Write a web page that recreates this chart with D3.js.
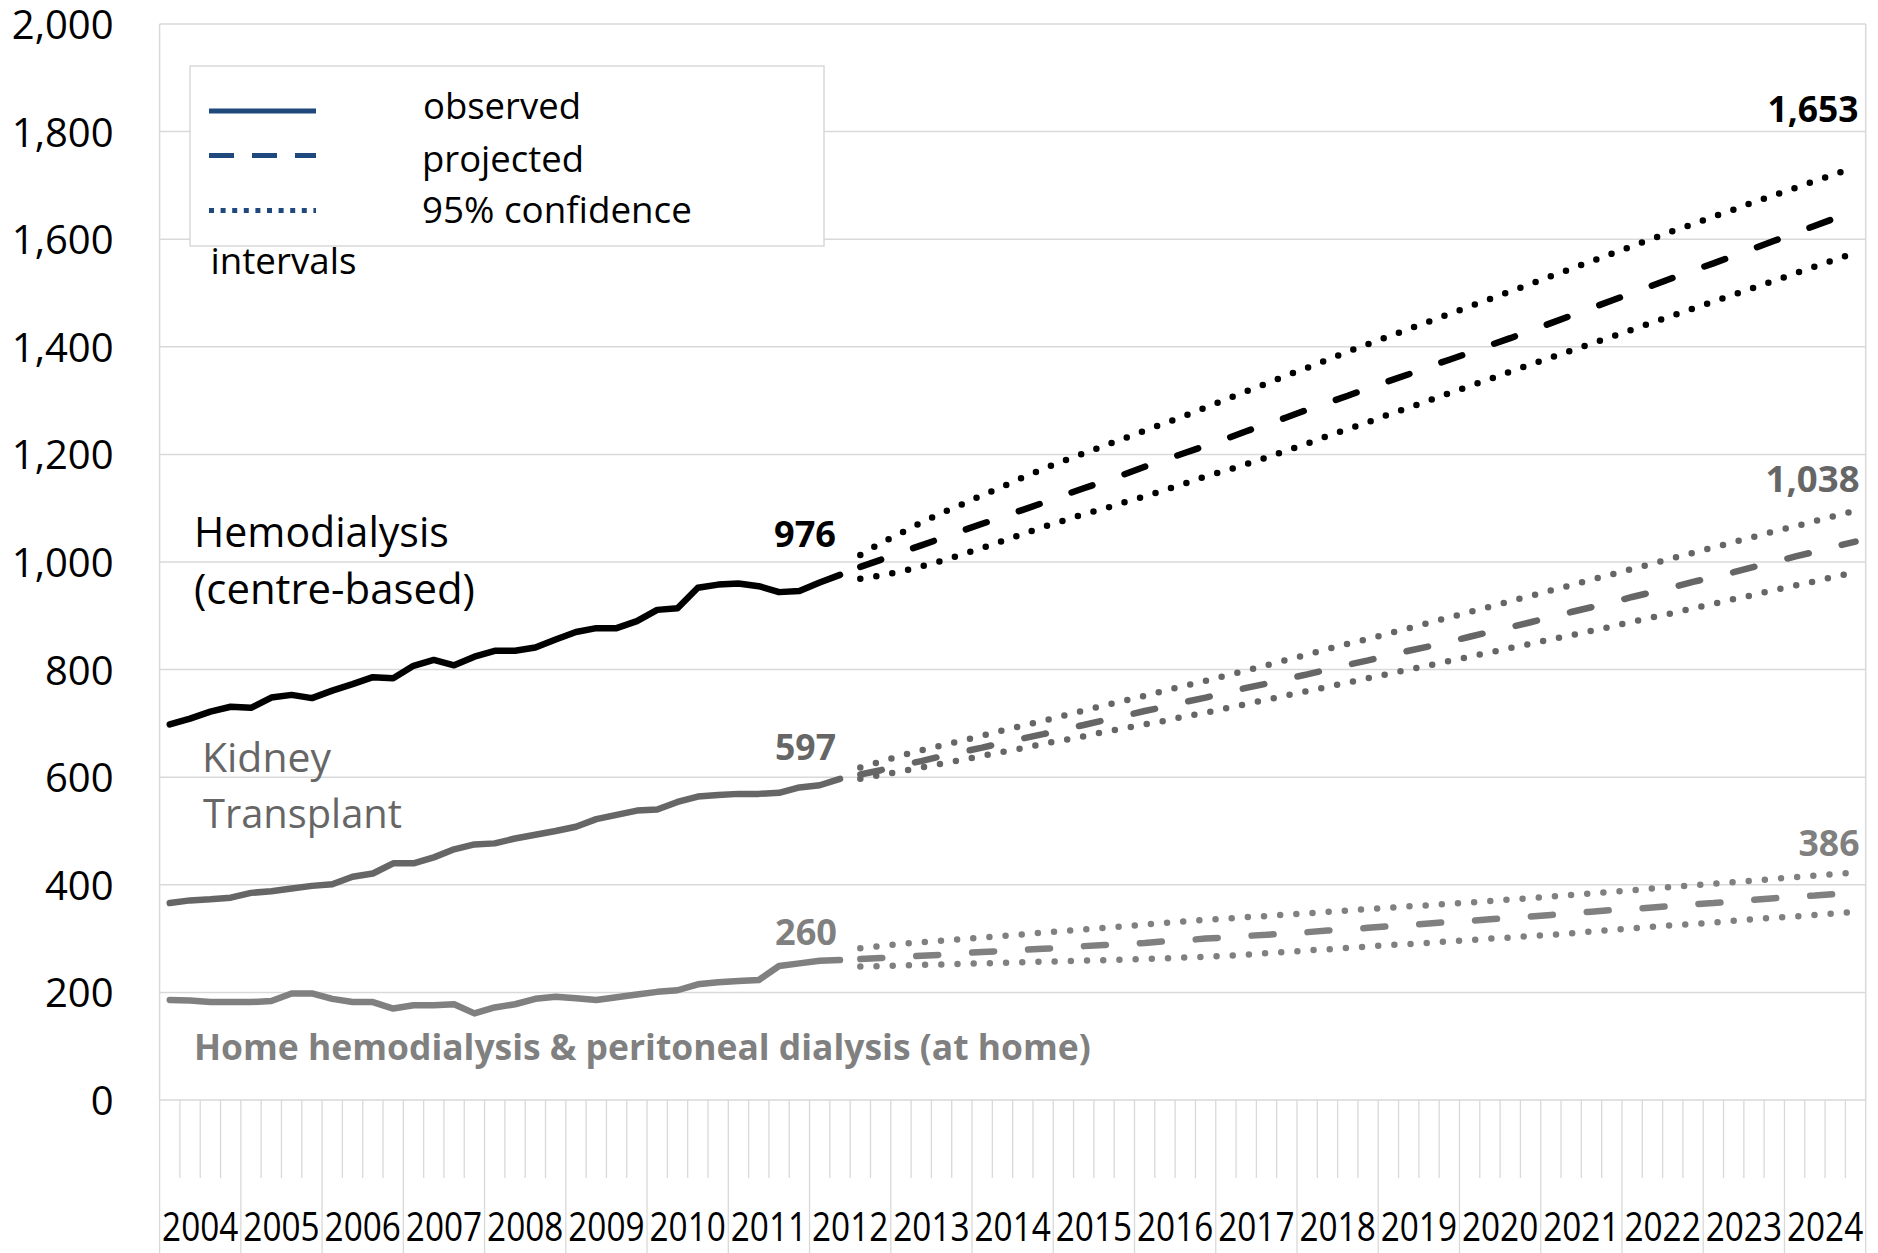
<!DOCTYPE html>
<html>
<head>
<meta charset="utf-8">
<script src="https://cdn.jsdelivr.net/npm/d3@7"></script>
<style>
  html, body { margin: 0; padding: 0; background: #fff; }
  svg { display: block; font-family: "Open Sans", "Noto Sans", sans-serif; }
</style>
</head>
<body>
<svg id="chart" width="1878" height="1253"></svg>
<script>
// Category axis: years split into quarters
const years = ["2004","2005","2006","2007","2008","2009","2010","2011","2012","2013","2014",
  "2015","2016","2017","2018","2019","2020","2021","2022","2023","2024"];
const quarters = ["Q1","Q2","Q3","Q4"];
const yTicks = [0, 200, 400, 600, 800, 1000, 1200, 1400, 1600, 1800, 2000];

// Observed quarterly counts, 2004 Q1 – 2012 Q2
const hemoObserved = [698,709,722,731,729,748,753,747,761,773,786,784,807,818,808,824,835,835,
  841,856,870,877,877,890,911,914,952,958,960,955,944,946,962,976];
const kidneyObserved = [366,371,373,376,385,388,393,398,401,415,421,440,440,451,466,475,477,486,
  493,500,508,522,530,538,540,554,564,567,569,569,571,581,585,597];
const homeObserved = [186,185,182,182,182,184,198,198,188,182,182,170,176,176,178,161,172,178,
  188,192,189,186,191,196,201,204,215,219,221,223,249,254,259,260];

// Projections with 95% confidence limits, 2012 Q3 – 2024 Q4
const hemoProjected = [991,1004,1018,1031,1044,1058,1071,1084,1097,1110,1124,1137,1150,1163,1177,
  1190,1203,1216,1229,1243,1256,1269,1283,1296,1309,1323,1336,1349,1363,1376,1389,1403,1416,1430,
  1444,1458,1472,1486,1500,1514,1528,1542,1555,1569,1583,1597,1611,1625,1639,1653];
const hemoUpper = [1013,1035,1054,1073,1091,1107,1124,1140,1157,1173,1188,1202,1216,1230,1244,1258,
  1272,1287,1302,1317,1332,1347,1361,1376,1391,1405,1419,1433,1447,1461,1475,1489,1503,1517,1531,
  1545,1559,1573,1587,1601,1615,1628,1642,1655,1669,1682,1695,1708,1721,1734];
const hemoLower = [969,975,982,992,1002,1014,1026,1039,1052,1065,1077,1089,1099,1111,1122,1134,1146,
  1159,1170,1182,1194,1207,1220,1234,1247,1260,1274,1287,1300,1314,1327,1340,1354,1367,1380,1393,
  1406,1419,1432,1445,1458,1471,1484,1497,1510,1523,1536,1549,1562,1575];

const kidneyProjected = [605,613,622,630,639,647,655,664,672,680,689,697,706,714,723,731,740,748,757,
  766,774,783,791,800,809,817,826,835,843,852,861,870,879,888,898,907,916,925,935,944,953,963,972,
  981,991,1000,1010,1019,1029,1038];
const kidneyUpper = [618,629,640,650,659,668,677,687,696,705,714,724,733,742,751,761,770,779,789,798,
  808,818,828,838,848,857,867,877,887,897,907,917,927,937,947,957,967,977,987,997,1007,1017,1027,
  1037,1047,1057,1066,1076,1086,1095];
const kidneyLower = [597,604,611,618,625,632,640,647,654,662,669,676,684,691,698,705,713,720,728,736,
  744,752,760,768,776,784,792,800,808,816,824,832,840,848,856,864,872,880,889,897,905,914,922,931,
  939,948,956,964,973,981];

const homeProjected = [262,264,266,268,270,273,275,277,279,281,283,286,288,290,292,295,297,300,302,
  305,307,310,312,315,317,320,323,325,328,331,333,336,339,341,344,347,350,353,355,358,361,364,366,
  369,372,375,378,380,383,386];
const homeUpper = [282,286,290,293,296,299,302,305,308,311,314,317,320,323,326,329,332,335,337,340,
  342,345,347,350,352,355,357,360,362,365,367,370,373,375,378,381,384,387,390,393,396,399,402,405,
  408,411,414,417,420,423];
const homeLower = [248,249,250,251,252,253,254,255,256,257,258,259,260,261,262,263,265,266,268,270,
  273,275,278,280,283,285,288,290,292,295,297,300,302,305,307,310,313,316,319,322,325,327,330,333,
  336,339,341,344,347,350];

const seriesNames = ["Hemodialysis", "(centre-based)"];
const legendLabels = ["observed", "projected", "95% confidence", "intervals"];

// ---------------------------------------------------------------------------
const svg = d3.select("#chart");
const plot = { left: 159.6, right: 1865.7, top: 24, bottom: 1100 };

const categories = years.flatMap(y => quarters.map(q => y + " " + q));
const x = d3.scaleBand().domain(categories).range([plot.left, plot.right]).paddingInner(0).paddingOuter(0);
const cx = c => x(c) + x.bandwidth() / 2;
const y = d3.scaleLinear().domain([0, 2000]).range([plot.bottom, plot.top]);

const gridColor = "#d9d9d9";

// horizontal gridlines
svg.append("g").selectAll("line").data(yTicks).join("line")
  .attr("x1", plot.left).attr("x2", plot.right)
  .attr("y1", d => y(d)).attr("y2", d => y(d))
  .attr("stroke", gridColor).attr("stroke-width", 1.5);

// plot border sides
svg.append("line").attr("x1", plot.left).attr("x2", plot.left)
  .attr("y1", plot.top).attr("y2", plot.bottom).attr("stroke", gridColor).attr("stroke-width", 1.5);
svg.append("line").attr("x1", plot.right).attr("x2", plot.right)
  .attr("y1", plot.top).attr("y2", plot.bottom).attr("stroke", gridColor).attr("stroke-width", 1.5);

// y axis labels
const yAxis = svg.append("g")
  .attr("transform", `translate(${plot.left - 46},0)`)
  .call(d3.axisLeft(y).tickValues(yTicks).tickFormat(d3.format(",")).tickSize(0).tickPadding(0));
yAxis.select(".domain").remove();
yAxis.selectAll("text")
  .attr("font-family", '"Open Sans", sans-serif')
  .attr("font-size", 40).attr("fill", "#000").attr("dy", "0.36em");

// multi-level category axis: quarter ticks and year dividers
const quarterBounds = d3.range(categories.length + 1);
svg.append("g").selectAll("line").data(quarterBounds).join("line")
  .attr("x1", i => plot.left + i * x.step()).attr("x2", i => plot.left + i * x.step())
  .attr("y1", plot.bottom)
  .attr("y2", i => (i % quarters.length === 0) ? 1253 : 1178)
  .attr("stroke", gridColor).attr("stroke-width", 1.3);

// year labels, sized to fit their year group and drawn in a tall, condensed style
const yearGroupWidth = x.step() * quarters.length;
const yearG = svg.append("g").selectAll("g").data(years).join("g")
  .attr("transform", yr =>
    `translate(${(x(yr + " Q1") + x(yr + " Q4") + x.bandwidth()) / 2},1240.5) scale(1,1.22)`);
const yearLabels = yearG.append("text")
  .attr("text-anchor", "middle")
  .attr("font-size", 40)
  .attr("fill", "#000")
  .text(yr => yr);
{
  const maxLen = d3.max(yearLabels.nodes(), n => n.getComputedTextLength());
  const limit = yearGroupWidth - 5;
  if (maxLen > limit) yearLabels.attr("font-size", 40 * limit / maxLen);
}

// ---------------------------------------------------------------------------
const observedCats = categories.slice(0, hemoObserved.length);
const projectedCats = categories.slice(hemoObserved.length, hemoObserved.length + hemoProjected.length);

const line = d3.line().x(d => cx(d[0])).y(d => y(d[1]));
const pairs = (cats, vals) => cats.map((c, i) => [c, vals[i]]);

function drawSeries(obs, proj, up, lo, color) {
  const g = svg.append("g");
  [up, lo].forEach(v => g.append("path")
    .attr("d", line(pairs(projectedCats, v)))
    .attr("fill", "none").attr("stroke", color).attr("stroke-width", 6.5)
    .attr("stroke-linecap", "round").attr("stroke-dasharray", "0,16.2"));
  g.append("path")
    .attr("d", line(pairs(projectedCats, proj)))
    .attr("fill", "none").attr("stroke", color).attr("stroke-width", 6.5)
    .attr("stroke-linecap", "round").attr("stroke-dasharray", "22,34");
  g.append("path")
    .attr("d", line(pairs(observedCats, obs)))
    .attr("fill", "none").attr("stroke", color).attr("stroke-width", 6.5)
    .attr("stroke-linecap", "round").attr("stroke-linejoin", "round");
}

const hemoColor = "#000000", kidneyColor = "#666666", homeColor = "#808080";
drawSeries(homeObserved, homeProjected, homeUpper, homeLower, homeColor);
drawSeries(kidneyObserved, kidneyProjected, kidneyUpper, kidneyLower, kidneyColor);
drawSeries(hemoObserved, hemoProjected, hemoUpper, hemoLower, hemoColor);

// text fitted to a measured width
function fit(sel, w) {
  const len = sel.node().getComputedTextLength();
  const fs = parseFloat(sel.attr("font-size"));
  if (len > 0) sel.attr("font-size", fs * w / len);
  return sel;
}
function label(xp, yp, txt, opts) {
  const t = svg.append("text").attr("x", xp).attr("y", yp)
    .attr("font-size", opts.size || 40)
    .attr("font-weight", opts.bold ? 700 : 400)
    .attr("fill", opts.color || "#000")
    .attr("text-anchor", opts.anchor || "start")
    .text(txt);
  if (opts.width) fit(t, opts.width);
  return t;
}

// value labels at the end of observed and projected segments
const fmt = d3.format(",");
const lastObs = observedCats[observedCats.length - 1];
const lastProj = projectedCats[projectedCats.length - 1];
const endLabel = (cat, val, dx, dy, color, w) =>
  label(cx(cat) + dx, y(val) + dy, fmt(val), { bold: true, color, anchor: "end", size: 36, width: w });

endLabel(lastObs, hemoObserved[hemoObserved.length - 1], -4, -28, hemoColor, 62);
endLabel(lastObs, kidneyObserved[kidneyObserved.length - 1], -4, -19, kidneyColor, 61);
endLabel(lastObs, homeObserved[homeObserved.length - 1], -3, -15, homeColor, 62);
endLabel(lastProj, hemoProjected[hemoProjected.length - 1], 3, -89, hemoColor, 91);
endLabel(lastProj, kidneyProjected[kidneyProjected.length - 1], 4, -50, kidneyColor, 94);
endLabel(lastProj, homeProjected[homeProjected.length - 1], 4, -36, homeColor, 61);

// series names
label(194, 547, seriesNames[0], { color: hemoColor, width: 255 });
label(194, 604, seriesNames[1], { color: hemoColor, width: 281 });
label(202, 771.5, "Kidney", { color: kidneyColor, width: 129 });
label(203, 828, "Transplant", { color: kidneyColor, width: 199 });
label(194, 1060, "Home hemodialysis & peritoneal dialysis (at home)",
  { bold: true, color: homeColor, width: 897 });

// legend
const legendBlue = "#1f497d";
svg.append("rect").attr("x", 190).attr("y", 66).attr("width", 634).attr("height", 180)
  .attr("fill", "#fff").attr("stroke", gridColor).attr("stroke-width", 1.5);
const legendRows = [
  { y: 111, dash: null },
  { y: 155.5, dash: "25,18" },
  { y: 210.5, dash: "5,6.6" }
];
legendRows.forEach(r => {
  const l = svg.append("line").attr("x1", 209).attr("x2", 316)
    .attr("y1", r.y).attr("y2", r.y)
    .attr("stroke", legendBlue).attr("stroke-width", 5);
  if (r.dash) l.attr("stroke-dasharray", r.dash);
});
label(423, 119.3, legendLabels[0], { width: 158 });
label(422, 171.5, legendLabels[1], { width: 162 });
label(422, 222.7, legendLabels[2], { width: 270 });
label(210.5, 274, legendLabels[3], { width: 146 });
</script>
</body>
</html>
